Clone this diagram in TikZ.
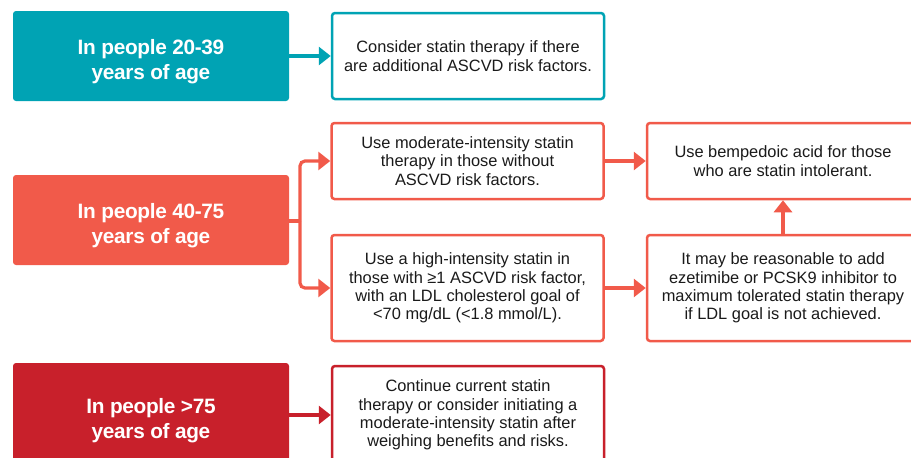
\documentclass[tikz,border=0pt]{standalone}
\usepackage{fontspec}
\setmainfont{Liberation Sans}
\usetikzlibrary{arrows.meta}
\definecolor{cteal}{HTML}{00A3B4}
\definecolor{corange}{HTML}{F15A4A}
\definecolor{cred}{HTML}{C8202B}
\definecolor{ctext}{HTML}{1A1A1A}
\newcommand{\hdtext}[2]{\raisebox{-11pt}[0pt][0pt]{\parbox{270pt}{\centering #1\\#2}}}
\begin{document}
\begin{tikzpicture}[x=1pt,y=-1pt,
  head/.style={rectangle, rounded corners=3pt, text=white, align=center,
    font=\fontsize{20.8pt}{24.5pt}\selectfont\bfseries\addfontfeature{LetterSpace=-1.5},
    minimum width=276pt, minimum height=90pt, inner sep=0pt},
  info/.style={rectangle, rounded corners=3pt, draw, line width=2.5pt, fill=white,
    text=ctext, align=center, font=\fontsize{16.4pt}{18.4pt}\selectfont,
    minimum width=272pt, inner sep=0pt},
  conn/.style={line width=3.2pt, -{Triangle[length=12pt,width=18pt]}},
  plain/.style={line width=3.2pt}
]
\useasboundingbox (0,0) rectangle (911,458);
\clip (0,0) rectangle (911,458);

% Row 1
\node[head, fill=cteal] (a) at (151,56) {\hdtext{In people 20-39}{years of age}};
\node[info, draw=cteal, minimum height=86pt] (a1) at (468,56) {Consider statin therapy if there\\are additional ASCVD risk factors.};
\draw[conn, cteal] (a.east) -- (a1.west);

% Row 2
\node[head, fill=corange] (b) at (151,220) {\hdtext{In people 40-75}{years of age}};
\node[info, draw=corange, minimum height=76pt] (b1) at (467.5,161) {Use moderate-intensity statin\\therapy in those without\\ASCVD risk factors.};
\node[info, draw=corange, minimum height=106pt] (b2) at (467.5,288) {Use a high-intensity statin in\\those with ≥1 ASCVD risk factor,\\with an LDL cholesterol goal of\\<70 mg/dL (<1.8 mmol/L).};
\node[info, draw=corange, minimum height=76pt] (b3) at (783,161) {Use bempedoic acid for those\\who are statin intolerant.};
\node[info, draw=corange, minimum height=106pt] (b4) at (783,288) {It may be reasonable to add\\ezetimibe or PCSK9 inhibitor to\\maximum tolerated statin therapy\\if LDL goal is not achieved.};

\coordinate (bsplit) at (300,221);
\draw[plain, corange] (b.east |- bsplit) -- (bsplit);
\draw[conn, corange, rounded corners=5pt] (bsplit) |- (b1.west);
\draw[conn, corange, rounded corners=5pt] (bsplit) |- (b2.west);
\draw[conn, corange] (b1.east) -- (b3.west);
\draw[conn, corange] (b2.east) -- (b4.west);
\draw[conn, corange] (b4.north) -- (b3.south);

% Row 3
\node[head, fill=cred, minimum height=104pt] (c) at (151,415) {\hdtext{In people >75}{years of age}};
\node[info, draw=cred, minimum height=98pt] (c1) at (468,415) {Continue current statin\\therapy or consider initiating a\\moderate-intensity statin after\\weighing benefits and risks.};
\draw[conn, cred] (c.east) -- (c1.west);
\end{tikzpicture}
\end{document}
